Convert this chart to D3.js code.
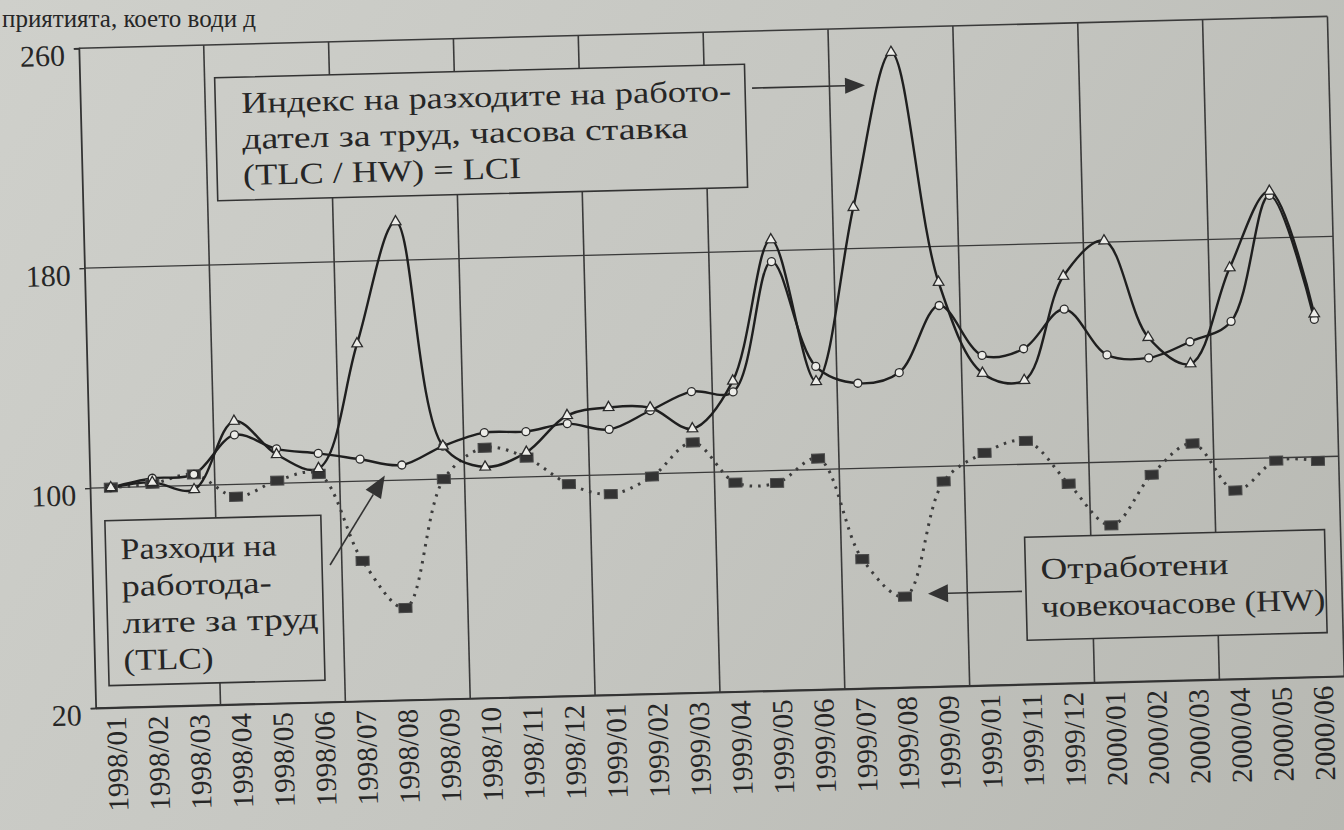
<!DOCTYPE html>
<html lang="bg">
<head>
<meta charset="utf-8">
<script src="https://cdn.jsdelivr.net/npm/d3@7"></script>
<style>
  html, body { margin: 0; padding: 0; background: #c6c7c2; }
  svg { display: block; }
  text { font-family: "Liberation Serif", "DejaVu Serif", serif; fill: #262626; }
</style>
</head>
<body>
<script>
// ---- data ----
const labels = ["1998/01","1998/02","1998/03","1998/04","1998/05","1998/06","1998/07","1998/08","1998/09","1998/10","1998/11","1998/12",
                "1999/01","1999/02","1999/03","1999/04","1999/05","1999/06","1999/07","1999/08","1999/09","1999/01","1999/11","1999/12",
                "2000/01","2000/02","2000/03","2000/04","2000/05","2000/06"];
// Отработени човекочасове (HW)
const hw  = [100, 101, 104, 95.5, 101, 103, 71, 53.5, 100, 111, 107, 97, 93, 99, 111, 96, 95.5, 104, 67, 53, 94.5, 104.5, 108.5, 92.5, 77, 95, 106, 88.5, 99, 98.5];
// Разходи на работодалите за труд (TLC)
const tlc = [100, 103, 104, 118, 112.5, 110.5, 108, 105.5, 112, 116.5, 116.5, 119, 116.5, 123, 129.5, 129, 176, 137.5, 131, 134.5, 158.5, 140, 142, 156, 139, 137.5, 143, 150, 195.5, 150];
// Индекс (TLC / HW) = LCI
const lci = [100, 101.5, 98.5, 123, 110.5, 105, 150, 194, 112, 104, 109, 122, 124.5, 124, 116, 133, 184, 132, 195, 251, 167, 133.5, 130.5, 168, 180.5, 145, 135, 169.5, 197, 152];
const yTicks = [20, 100, 180, 260];

const noteLCI = ["Индекс на разходите на работо-", "дател за труд, часова ставка", "(TLC / HW) = LCI"];
const noteTLC = ["Разходи на", "работода-", "лите за труд", "(TLC)"];
const noteHW  = ["Отработени", "човекочасове (HW)"];
const pageText = "приятията, което води д";

// ---- layout ----
const W = 1344, H = 830;
const L = 88, R = 1337, T = 32, B = 692;

const svg = d3.select("body").append("svg").attr("width", W).attr("height", H);
const defs = svg.append("defs");
const grad = defs.append("linearGradient").attr("id", "paper")
  .attr("gradientUnits", "userSpaceOnUse").attr("x1", 0).attr("y1", 0).attr("x2", W).attr("y2", H);
grad.append("stop").attr("offset", 0).attr("stop-color", "#cfd0cb");
grad.append("stop").attr("offset", 0.5).attr("stop-color", "#c5c6c1");
grad.append("stop").attr("offset", 1).attr("stop-color", "#b7b8b2");
svg.append("rect").attr("width", W).attr("height", H).attr("fill", "url(#paper)");

// page text at the top of the photographed page
svg.append("text").attr("x", 2).attr("y", 27).attr("font-size", 25).text(pageText);

const g = svg.append("g").attr("transform", "rotate(-1.46 720 400)");

const x = d3.scaleBand().domain(d3.range(labels.length)).range([L, R]).paddingInner(0).paddingOuter(0);
const y = d3.scaleLinear().domain([20, 260]).range([B, T]);
const cx = i => x(i) + x.bandwidth() / 2;

// grid lines
const grid = g.append("g").attr("stroke", "#3a3a3a").attr("fill", "none");
grid.selectAll("line.h").data(yTicks).join("line")
  .attr("x1", L).attr("x2", R).attr("y1", d => y(d)).attr("y2", d => y(d))
  .attr("stroke-width", d => (d === 20 || d === 260) ? 1.6 : 1.3);
const vIdx = d3.range(3, labels.length, 3);
grid.selectAll("line.v").data(vIdx).join("line")
  .attr("x1", d => x(d)).attr("x2", d => x(d)).attr("y1", T).attr("y2", B)
  .attr("stroke-width", 1.6);
grid.append("line").attr("x1", R).attr("x2", R).attr("y1", T).attr("y2", B).attr("stroke-width", 1.6);

// axes
const yAxis = g.append("g").attr("transform", `translate(${L},0)`)
  .call(d3.axisLeft(y).tickValues(yTicks).tickSize(5).tickPadding(9));
yAxis.select(".domain").attr("stroke", "#333").attr("stroke-width", 1.8);
yAxis.selectAll(".tick line").attr("stroke", "#333").attr("stroke-width", 1.4);
yAxis.selectAll(".tick text").attr("font-size", 30).attr("dy", "0.55em")
  .attr("font-family", "Liberation Serif, serif").attr("fill", "#262626");

const xAxis = g.append("g").attr("transform", `translate(0,${B})`)
  .call(d3.axisBottom(x).tickSize(0).tickFormat(i => labels[i]));
xAxis.select(".domain").attr("stroke", "#333").attr("stroke-width", 1.8);
xAxis.selectAll(".tick text")
  .attr("font-size", 29).attr("font-family", "Liberation Serif, serif").attr("fill", "#262626")
  .attr("transform", "rotate(-90)").attr("text-anchor", "end")
  .attr("x", -9).attr("y", 0).attr("dy", "0.32em");

// series
const line = d3.line().x((d, i) => cx(i)).y(d => y(d)).curve(d3.curveCatmullRom.alpha(0.5));

g.append("path").datum(hw).attr("d", line).attr("fill", "none")
  .attr("stroke", "#3c3c3c").attr("stroke-width", 3).attr("stroke-dasharray", "2.5,6");
g.append("path").datum(tlc).attr("d", line).attr("fill", "none")
  .attr("stroke", "#1f1f1f").attr("stroke-width", 2.4);
g.append("path").datum(lci).attr("d", line).attr("fill", "none")
  .attr("stroke", "#1f1f1f").attr("stroke-width", 2.4);

g.append("g").selectAll("rect").data(hw).join("rect")
  .attr("x", (d, i) => cx(i) - 6.5).attr("y", d => y(d) - 4.5)
  .attr("width", 13).attr("height", 9)
  .attr("fill", "#333").attr("stroke", "#4a4a4a").attr("stroke-width", 1);
g.append("g").selectAll("circle").data(tlc).join("circle")
  .attr("cx", (d, i) => cx(i)).attr("cy", d => y(d)).attr("r", 4)
  .attr("fill", "#ecece8").attr("stroke", "#2a2a2a").attr("stroke-width", 1.3);
const tri = d3.symbol().type(d3.symbolTriangle).size(48);
g.append("g").selectAll("path").data(lci).join("path")
  .attr("d", tri).attr("transform", (d, i) => `translate(${cx(i)},${y(d)})`)
  .attr("fill", "#ecece8").attr("stroke", "#2a2a2a").attr("stroke-width", 1.3);

// annotations
function box(x0, y0, w, h) {
  g.append("rect").attr("x", x0).attr("y", y0).attr("width", w).attr("height", h)
    .attr("fill", "url(#paper)").attr("stroke", "#333").attr("stroke-width", 1.6);
}
function lines(arr, x0, y0, dy, size, lens) {
  arr.forEach((t, k) => {
    const el = g.append("text").attr("x", x0).attr("y", y0 + k * dy).attr("font-size", size).text(t);
    if (lens && lens[k]) el.attr("textLength", lens[k]).attr("lengthAdjust", "spacingAndGlyphs");
  });
}
function arrow(x1, y1, x2, y2, len, half) {
  const a = Math.atan2(y2 - y1, x2 - x1);
  const bx = x2 - len * Math.cos(a), by = y2 - len * Math.sin(a);
  g.append("line").attr("x1", x1).attr("y1", y1).attr("x2", bx).attr("y2", by)
    .attr("stroke", "#333").attr("stroke-width", 1.6);
  const p1 = [bx + half * Math.sin(a), by - half * Math.cos(a)];
  const p2 = [bx - half * Math.sin(a), by + half * Math.cos(a)];
  g.append("path").attr("d", `M${x2},${y2}L${p1}L${p2}Z`).attr("fill", "#333");
}

box(223, 65, 530, 123);
lines(noteLCI, 249, 101, 36, 30, [490, 446, 278]);
arrow(760, 89, 873, 89, 20, 8);

box(102, 505, 216, 165);
lines(noteTLC, 117, 544, 37, 30, [156, 150, 196, 90]);
arrow(326, 555, 383, 467, 22, 9);

box(1021, 545, 300, 103);
lines(noteHW, 1036, 587, 38, 30, [188, 284]);
arrow(1017, 599, 923, 599, 20, 9);
</script>
</body>
</html>
